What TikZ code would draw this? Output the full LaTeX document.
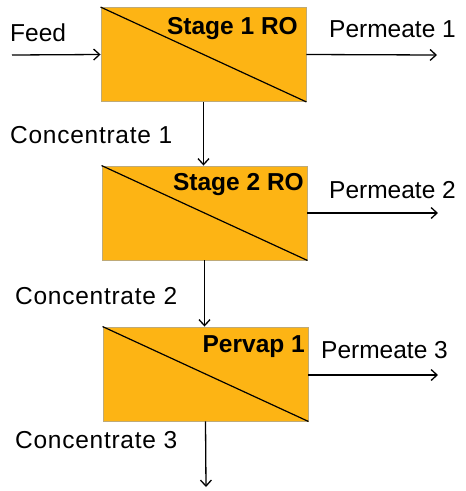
\documentclass[tikz,border=0pt]{standalone}
\usepackage{fontspec}
\setmainfont{Liberation Sans}
\newfontfamily\widesans[LetterSpace=3]{Liberation Sans}
\usetikzlibrary{arrows.meta}
\definecolor{unitfill}{RGB}{253,180,20}
\definecolor{unitedge}{RGB}{190,170,120}
\tikzset{
  unit/.style={draw=unitedge, line width=0.9pt, fill=unitfill, minimum width=205pt, minimum height=94pt, inner sep=0pt},
  flow/.style={line width=1.3pt, -{Straight Barb[length=6pt,width=11pt,line width=1.3pt]}},
  lbl/.style={font=\fontsize{24.5}{29}\selectfont, inner sep=0pt, anchor=base west},
  widelbl/.style={lbl, font=\widesans\fontsize{24.5}{29}\selectfont},
  ttl/.style={font=\fontsize{24.5}{29}\selectfont\bfseries, inner sep=0pt, anchor=base east}
}
\begin{document}
\begin{tikzpicture}[x=1pt,y=-1pt]
\useasboundingbox (0,0) rectangle (466,491);
% membrane units
\node[unit] (u1) at (203.5,54.5) {};
\node[unit] (u2) at (204.5,213) {};
\node[unit] (u3) at (205.5,374) {};
\foreach \u in {u1,u2,u3}
  \draw[line width=1.2pt] (\u.north west) -- (\u.south east);
% unit titles
\node[ttl] (t1) at (298,34) {Stage 1 RO};
\node[ttl] (t2) at (304,190) {Stage 2 RO};
\node[ttl] (t3) at (305,352) {Pervap 1};
% free stream ends
\coordinate (fin) at (12,55);
\coordinate (p1) at (437,55);
\coordinate (p2) at (438,213);
\coordinate (p3) at (438,375);
\coordinate (c3) at (206,487);
% streams
\draw[flow] (fin) -- (u1.west);
\draw[flow] (u1.east) -- (p1);
\draw[flow] (u1.south) -- (u1.south |- u2.north);
\draw[flow] (u2.east) -- (p2);
\draw[flow] (u2.south) -- (u2.south |- u3.north);
\draw[flow] (u3.east |- p3) -- (p3);
\draw[flow] (u3.south) -- (c3);
% stream labels
\node[lbl] (lf) at (10,41) {Feed};
\node[lbl] (lp1) at (329,37) {Permeate 1};
\node[widelbl] (lc1) at (10,143) {Concentrate 1};
\node[lbl] (lp2) at (329,198) {Permeate 2};
\node[widelbl] (lc2) at (15,304) {Concentrate 2};
\node[lbl] (lp3) at (321,358) {Permeate 3};
\node[widelbl] (lc3) at (15,448) {Concentrate 3};
\end{tikzpicture}
\end{document}
